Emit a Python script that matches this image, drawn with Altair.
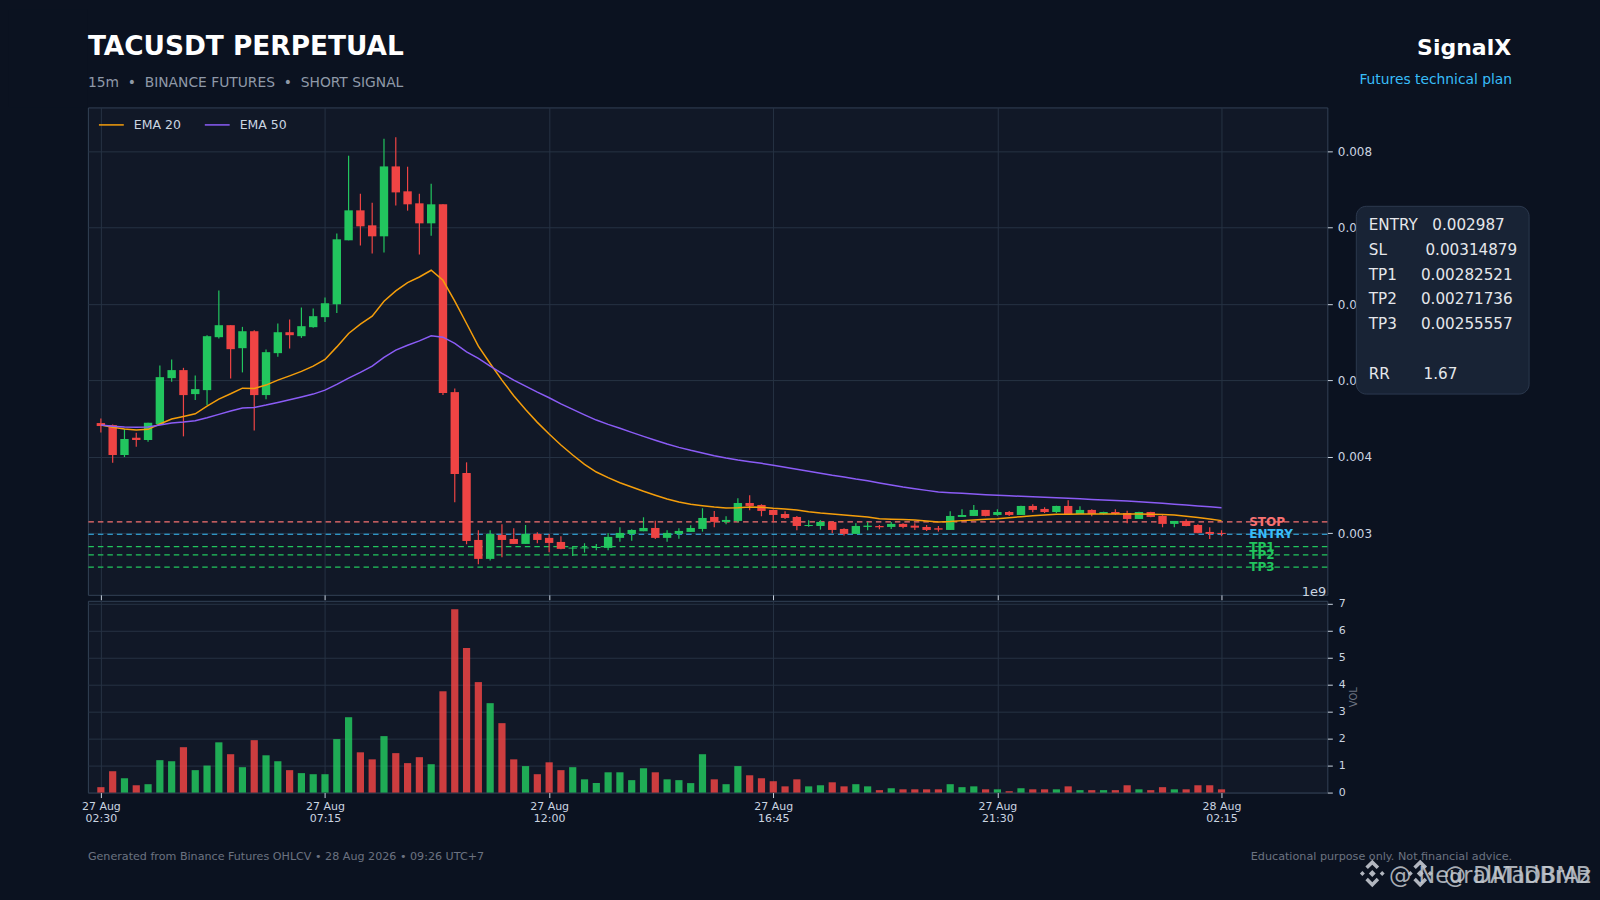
import altair as alt
import pandas as pd

PAGE = "#0b1220"
PANEL = "#111827"
GRID = "#263243"
BORDER = "#334155"
GREEN = "#22c55e"
RED = "#ef4444"
ORANGE = "#f59e0b"
PURPLE = "#8b5cf6"
CYAN = "#38bdf8"
TICKTXT = "#cbd5e1"

opens = [0.004442,0.004416,0.004024,0.004250,0.004220,0.004429,0.005030,0.005135,0.004821,0.004873,0.005566,0.005723,
0.005422,0.005644,0.004808,0.005357,0.005631,0.005579,0.005697,0.005828,0.005997,0.006834,0.007226,0.007030,
0.006886,0.007801,0.007475,0.007318,0.007056,0.007305,0.004847,0.003788,0.002912,0.002664,0.002978,0.002925,
0.002860,0.002991,0.002939,0.002886,0.002799,0.002801,0.002808,0.002808,0.002939,0.002991,0.003026,0.003069,
0.002939,0.002991,0.003017,0.003056,0.003213,0.003148,0.003161,0.003396,0.003370,0.003305,0.003252,0.003213,
0.003095,0.003095,0.003148,0.003056,0.002991,0.003082,0.003095,0.003082,0.003122,0.003099,0.003082,0.003065,
0.003043,0.003213,0.003226,0.003305,0.003239,0.003278,0.003239,0.003357,0.003318,0.003278,0.003357,0.003252,
0.003305,0.003252,0.003278,0.003265,0.003187,0.003278,0.003226,0.003122,0.003161,0.003108,0.003017,0.003004]
closes = [0.004403,0.004024,0.004233,0.004220,0.004446,0.005043,0.005135,0.004808,0.004886,0.005579,0.005723,0.005409,
0.005644,0.004808,0.005370,0.005631,0.005592,0.005710,0.005841,0.006010,0.006847,0.007226,0.007017,0.006886,
0.007801,0.007461,0.007305,0.007056,0.007305,0.004834,0.003775,0.002899,0.002664,0.002991,0.002912,0.002860,
0.002991,0.002912,0.002873,0.002795,0.002812,0.002814,0.002821,0.002952,0.003004,0.003043,0.003069,0.002939,
0.003004,0.003030,0.003069,0.003200,0.003148,0.003174,0.003396,0.003357,0.003292,0.003239,0.003200,0.003095,
0.003108,0.003148,0.003043,0.002991,0.003095,0.003099,0.003078,0.003122,0.003082,0.003073,0.003043,0.003047,
0.003226,0.003239,0.003305,0.003226,0.003278,0.003239,0.003357,0.003305,0.003278,0.003357,0.003252,0.003305,
0.003252,0.003278,0.003252,0.003187,0.003278,0.003213,0.003122,0.003161,0.003095,0.003004,0.002991,0.002991]
highs = [0.004503,0.004422,0.004363,0.004315,0.004446,0.005196,0.005275,0.005165,0.005065,0.005592,0.006176,0.005723,
0.005701,0.005658,0.005405,0.005745,0.005797,0.005954,0.005941,0.006085,0.006922,0.007941,0.007444,0.007327,
0.008163,0.008184,0.007797,0.007444,0.007575,0.007305,0.004895,0.003928,0.003039,0.003039,0.003118,0.003065,
0.003108,0.003013,0.002991,0.002961,0.002834,0.002869,0.002860,0.003000,0.003078,0.003052,0.003209,0.003165,
0.003039,0.003065,0.003105,0.003327,0.003292,0.003222,0.003458,0.003497,0.003379,0.003311,0.003288,0.003226,
0.003170,0.003170,0.003157,0.003065,0.003131,0.003148,0.003108,0.003148,0.003131,0.003131,0.003108,0.003095,
0.003288,0.003314,0.003370,0.003305,0.003314,0.003292,0.003361,0.003379,0.003340,0.003361,0.003431,0.003353,
0.003314,0.003282,0.003314,0.003295,0.003282,0.003282,0.003235,0.003161,0.003183,0.003118,0.003078,0.003039]
lows = [0.004320,0.003923,0.003997,0.004132,0.004197,0.004416,0.004982,0.004268,0.004743,0.004677,0.005549,0.005026,
0.005105,0.004346,0.004752,0.005309,0.005418,0.005557,0.005688,0.005766,0.005884,0.006834,0.006765,0.006660,
0.006673,0.007288,0.007222,0.006647,0.006895,0.004808,0.003405,0.002856,0.002595,0.002642,0.002686,0.002860,
0.002860,0.002869,0.002752,0.002791,0.002703,0.002746,0.002778,0.002778,0.002890,0.002903,0.003026,0.002925,
0.002890,0.002929,0.003017,0.003021,0.003078,0.003118,0.003144,0.003301,0.003222,0.003144,0.003187,0.003039,
0.003086,0.003047,0.003000,0.002969,0.002991,0.003039,0.003052,0.003056,0.003065,0.003043,0.003030,0.003021,
0.003043,0.003213,0.003226,0.003222,0.003230,0.003226,0.003239,0.003275,0.003265,0.003265,0.003252,0.003252,
0.003222,0.003243,0.003243,0.003131,0.003187,0.003209,0.003078,0.003078,0.003092,0.003000,0.002925,0.002961]
ema20 = [0.004416,0.004386,0.004363,0.004350,0.004360,0.004429,0.004494,0.004529,0.004563,0.004664,0.004756,0.004825,
0.004899,0.004895,0.004939,0.005004,0.005060,0.005118,0.005187,0.005275,0.005439,0.005614,0.005736,0.005841,
0.006037,0.006171,0.006281,0.006354,0.006442,0.006311,0.006037,0.005745,0.005448,0.005222,0.005004,0.004799,
0.004621,0.004451,0.004298,0.004154,0.004024,0.003902,0.003801,0.003727,0.003661,0.003605,0.003549,0.003497,
0.003448,0.003409,0.003379,0.003361,0.003344,0.003331,0.003335,0.003344,0.003340,0.003327,0.003318,0.003305,
0.003282,0.003265,0.003252,0.003239,0.003226,0.003213,0.003191,0.003184,0.003179,0.003174,0.003161,0.003148,
0.003154,0.003165,0.003174,0.003182,0.003191,0.003204,0.003217,0.003230,0.003239,0.003248,0.003250,0.003251,
0.003252,0.003252,0.003252,0.003252,0.003252,0.003248,0.003244,0.003239,0.003222,0.003207,0.003187,0.003165]
ema50 = [0.004416,0.004399,0.004390,0.004386,0.004390,0.004416,0.004442,0.004455,0.004472,0.004511,0.004556,0.004599,
0.004638,0.004647,0.004677,0.004712,0.004746,0.004782,0.004821,0.004873,0.004948,0.005030,0.005105,0.005187,
0.005301,0.005396,0.005461,0.005518,0.005583,0.005566,0.005484,0.005374,0.005288,0.005187,0.005092,0.005004,
0.004926,0.004847,0.004773,0.004694,0.004621,0.004550,0.004481,0.004425,0.004373,0.004320,0.004268,0.004216,
0.004167,0.004124,0.004085,0.004050,0.004014,0.003984,0.003958,0.003936,0.003915,0.003889,0.003863,0.003837,
0.003810,0.003784,0.003758,0.003736,0.003710,0.003688,0.003658,0.003631,0.003605,0.003583,0.003561,0.003540,
0.003531,0.003523,0.003514,0.003505,0.003497,0.003490,0.003484,0.003477,0.003472,0.003465,0.003459,0.003451,
0.003443,0.003435,0.003429,0.003421,0.003413,0.003403,0.003391,0.003380,0.003370,0.003358,0.003346,0.003335]
volumes = [0.20,0.79,0.53,0.27,0.31,1.20,1.16,1.68,0.83,1.00,1.86,1.42,0.94,1.94,1.38,1.16,0.83,0.72,0.68,0.68,
1.98,2.79,1.49,1.23,2.09,1.46,1.09,1.31,1.05,3.75,6.79,5.35,4.09,3.31,2.57,1.23,0.98,0.68,1.12,0.83,0.94,0.49,
0.35,0.75,0.75,0.46,0.90,0.75,0.49,0.46,0.35,1.42,0.49,0.31,0.98,0.64,0.53,0.42,0.23,0.49,0.23,0.27,0.38,0.23,
0.31,0.23,0.09,0.16,0.12,0.12,0.12,0.12,0.31,0.20,0.23,0.12,0.12,0.05,0.16,0.12,0.12,0.12,0.23,0.09,0.09,0.09,
0.09,0.27,0.12,0.09,0.20,0.12,0.12,0.27,0.27,0.12]
tick_idx = [0, 19, 38, 57, 76, 95]
tick_labels = ["27 Aug|02:30", "27 Aug|07:15", "27 Aug|12:00", "27 Aug|16:45", "27 Aug|21:30", "28 Aug|02:15"]
level_names = ["STOP", "ENTRY", "TP1", "TP2", "TP3"]
level_values = [0.00314879, 0.002987, 0.00282521, 0.00271736, 0.00255557]
level_colors = ["#f87171", CYAN, GREEN, GREEN, GREEN]
price_ticks = [0.003, 0.004, 0.005, 0.006, 0.007, 0.008]
vol_ticks = [0, 1, 2, 3, 4, 5, 6, 7]
box_lines = ["ENTRY   0.002987", "SL        0.00314879", "TP1     0.00282521", "TP2     0.00271736", "TP3     0.00255557", "", "RR       1.67"]

n = len(opens)
idx = list(range(n))
df = pd.DataFrame(dict(i=idx, open=opens, close=closes, high=highs, low=lows, vol=volumes))
ema = pd.DataFrame(dict(i=idx * 2, v=ema20 + ema50, s=["EMA 20"] * n + ["EMA 50"] * n))
lv = pd.DataFrame(dict(name=level_names, v=level_values, c=level_colors, x=[97.35] * 5))
one = pd.DataFrame({"a": [0]})

W, H_MAIN, H_VOL = 1241, 488, 192
xscale = alt.Scale(domain=[-1.1, 103.97], nice=False, zero=False, padding=0)
yscale = alt.Scale(domain=[0.002194, 0.008573], nice=False, zero=False)
vscale = alt.Scale(domain=[0, 7.1], nice=False, zero=True)

xaxis_main = alt.Axis(values=tick_idx, labels=False, title=None, grid=True, gridColor=GRID, ticks=True,
                      tickColor=TICKTXT, tickSize=5, domain=False)
label_expr = "split(" + str(tick_labels) + "[datum.value/19], '|')"
xaxis_vol = alt.Axis(values=tick_idx, labelExpr=label_expr, title=None, grid=True, gridColor=GRID, ticks=True,
                     tickColor=TICKTXT, tickSize=5, domain=False, labelColor=TICKTXT, labelFontSize=11,
                     labelPadding=3, labelOverlap=False, labelAngle=0, labelLineHeight=12)
yaxis_main = alt.Axis(values=price_ticks, format=".3f", orient="right", title=None, grid=True, gridColor=GRID,
                      tickColor=TICKTXT, tickSize=5, domain=False, labelColor=TICKTXT, labelFontSize=12, labelPadding=5)
yaxis_vol = alt.Axis(values=vol_ticks, format="d", orient="right", title="VOL", grid=True, gridColor=GRID,
                     tickColor=TICKTXT, tickSize=5, domain=False, labelColor=TICKTXT, labelFontSize=11, labelPadding=6,
                     titleColor="#6b7280", titleFontSize=10, titleFontWeight="normal", titleAngle=270, titlePadding=13)

X = alt.X("i:Q", scale=xscale, axis=xaxis_main)
up = "datum.close >= datum.open"
color = alt.condition(up, alt.value(GREEN), alt.value(RED))

page_bg = alt.Chart(one).mark_rect(fill=PAGE).encode(x=alt.value(-79), x2=alt.value(0), y=alt.value(-98), y2=alt.value(0))
levels = alt.Chart(lv).mark_rule(strokeDash=[5.5, 4], strokeWidth=1.2).encode(
    y=alt.Y("v:Q", scale=yscale, axis=yaxis_main), color=alt.Color("c:N", scale=None, legend=None))
wicks = alt.Chart(df).mark_rule(strokeWidth=1.2).encode(
    x=X, y=alt.Y("low:Q", scale=yscale, axis=yaxis_main), y2="high:Q", color=color)
bodies = alt.Chart(df).mark_bar(size=8.4, orient="vertical").encode(
    x=X, y=alt.Y("open:Q", scale=yscale, axis=yaxis_main), y2="close:Q", color=color)
lines = alt.Chart(ema).mark_line(strokeWidth=1.5, interpolate="linear").encode(
    x=X, y=alt.Y("v:Q", scale=yscale, axis=yaxis_main),
    color=alt.Color("s:N", scale=alt.Scale(domain=["EMA 20", "EMA 50"], range=[ORANGE, PURPLE]),
                    legend=alt.Legend(orient="none", legendX=10, legendY=4, direction="horizontal", title=None,
                                      symbolType="stroke", symbolSize=620, symbolStrokeWidth=1.5,
                                      labelColor=TICKTXT, labelFontSize=12.5, columnPadding=20, labelOffset=9, padding=0)))
level_txt = alt.Chart(lv).mark_text(align="left", baseline="middle", fontSize=12, fontWeight="bold").encode(
    x=alt.X("x:Q", scale=xscale, axis=xaxis_main), y=alt.Y("v:Q", scale=yscale, axis=yaxis_main), text="name:N",
    color=alt.Color("c:N", scale=None, legend=None))

def txt(s, x, y, size, col, align="left", weight="normal", baseline="alphabetic", opacity=1):
    return alt.Chart(one).mark_text(align=align, baseline=baseline, fontSize=size, fontWeight=weight, color=col,
                                    opacity=opacity).encode(x=alt.value(x), y=alt.value(y),
                                                            text=alt.value(s.replace(" ", "\u00a0")))

offset = txt("1e9", 1240, 485, 13, TICKTXT, align="right", baseline="middle")
box = alt.Chart(one).mark_rect(fill="#182335", stroke="#2c394e", strokeWidth=1, cornerRadius=10).encode(
    x=alt.value(1270), x2=alt.value(1443), y=alt.value(99), y2=alt.value(287))
box_text = [txt(s, 1282.5, 118 + 24.75 * k, 15.2, "#e5e7eb", baseline="middle") for k, s in enumerate(box_lines) if s]
header = [
    txt("TACUSDT PERPETUAL", 0, -52.5, 26.4, "#ffffff", weight="bold"),
    txt("15m  •  BINANCE FUTURES  •  SHORT SIGNAL", 0, -20, 13.85, "#8f99a8"),
    txt("SignalX", 1425, -52, 22, "#ffffff", align="right", weight="bold"),
    txt("Futures technical plan", 1426, -23, 13.85, CYAN, align="right"),
]
main = alt.layer(page_bg, levels, wicks, bodies, lines, level_txt, offset, box, *box_text, *header).properties(
    width=W, height=H_MAIN).resolve_scale(color="independent")

vol_bars = alt.Chart(df).mark_bar(size=7.2, orient="vertical", opacity=0.85).encode(
    x=alt.X("i:Q", scale=xscale, axis=xaxis_vol), y=alt.Y("vol:Q", scale=vscale, axis=yaxis_vol), color=color)

LOGO = ("M0,-0.25 L0.25,0 L0,0.25 L-0.25,0 Z "
        "M0,-1 L0.5,-0.5 L0.32,-0.32 L0,-0.64 L-0.32,-0.32 L-0.5,-0.5 Z "
        "M0,1 L0.5,0.5 L0.32,0.32 L0,0.64 L-0.32,0.32 L-0.5,0.5 Z "
        "M-0.72,-0.18 L-0.54,0 L-0.72,0.18 L-0.9,0 Z M0.72,-0.18 L0.9,0 L0.72,0.18 L0.54,0 Z")
def logo(x, y):
    return alt.Chart(one).mark_point(shape=LOGO, filled=True, size=760, color="#c4c9d0", opacity=0.9).encode(
        x=alt.value(x), y=alt.value(y))
FY = 257
footer = [
    txt("Generated from Binance Futures OHLCV • 28 Aug 2026 • 09:26 UTC+7", 0, FY, 11.15, "#6b7280", baseline="middle"),
    txt("Educational purpose only. Not financial advice.", 1426, FY, 11.2, "#6b7280", align="right", baseline="middle"),
    logo(1286, 273), logo(1334, 273),
    txt("@ NeuralMadBrAz", 1505, 283, 22.4, "#c4c9d0", align="right", opacity=0.85),
    txt("@ DATIDBMB", 1505, 283, 22.4, "#c4c9d0", align="right", opacity=0.85),
]
vol = alt.layer(vol_bars, *footer).properties(width=W, height=H_VOL)

chart = alt.vconcat(main, vol, spacing=-6).properties(
    padding=0, background=PAGE,
).configure(font="DejaVu Sans").configure_view(fill=PANEL, stroke=BORDER, strokeWidth=1).configure_axis(
    gridWidth=1, tickWidth=1, labelFont="DejaVu Sans")

chart.save("out.html", embed_options={"renderer": "svg", "actions": False, "defaultStyle": "html,body{background:#0b1220;overflow:hidden}"})
